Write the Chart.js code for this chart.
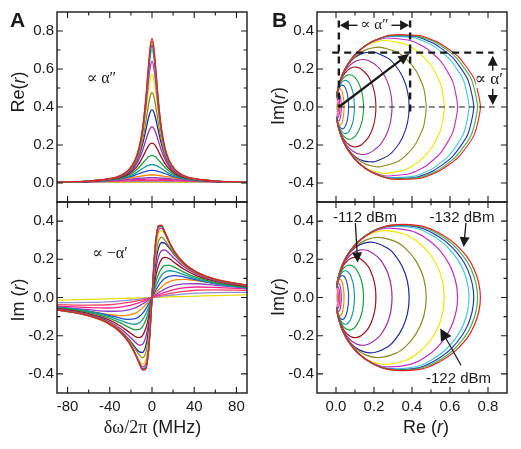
<!DOCTYPE html>
<html>
<head>
<meta charset="utf-8">
<script src="https://cdn.jsdelivr.net/npm/chart.js@4.4.0/dist/chart.umd.min.js"></script>
<style>
  body { margin: 0; background: #fff; }
  #wrap { position: relative; width: 521px; height: 449px; }
  #wrap canvas { position: absolute; left: 0; top: 0; }
</style>
</head>
<body>
<div id="wrap">
  <canvas id="aTop" width="521" height="449"></canvas>
  <canvas id="aBottom" width="521" height="449"></canvas>
  <canvas id="bTop" width="521" height="449"></canvas>
  <canvas id="bBottom" width="521" height="449"></canvas>
</div>
<script>
// detuning grid (MHz) shared by every trace
const detuning = [-90, -60, -42, -30, -22, -16, -12, -9, -6, -4.5, -3, -1.5, 0, 1.5, 3, 4.5, 6, 9, 12, 16, 22, 30, 42, 60, 90];

// one colour per input power, strongest response first
const seriesColors = ['#ee1c24', '#3cb83c', '#2233bb', '#44c8e0', '#c030c0', '#f0e600', '#8a8a20',
  '#1c2a9a', '#a028a8', '#9a1016', '#18a040', '#1a9a9a', '#2050d0', '#ff8a00', '#9040c8',
  '#ff2090', '#ff4060', '#9090d0', '#e8dc10'];

// Re(r) (top)
const reSeries = [
  [.005,.010,.021,.039,.070,.122,.193,.286,.438,.538,.642,.727,.760,.727,.642,.538,.438,.286,.193,.122,.070,.039,.021,.010,.005],
  [.004,.010,.020,.038,.068,.120,.189,.281,.429,.527,.629,.712,.745,.712,.629,.527,.429,.281,.189,.120,.068,.038,.020,.010,.004],
  [.004,.010,.020,.037,.067,.117,.184,.273,.418,.513,.612,.693,.725,.693,.612,.513,.418,.273,.184,.117,.067,.037,.020,.010,.004],
  [.004,.010,.020,.038,.068,.118,.185,.273,.413,.503,.596,.671,.700,.671,.596,.503,.413,.273,.185,.118,.068,.038,.020,.010,.004],
  [.004,.010,.020,.038,.067,.115,.180,.262,.390,.471,.552,.615,.640,.615,.552,.471,.390,.262,.180,.115,.067,.038,.020,.010,.004],
  [.004,.010,.020,.038,.067,.114,.175,.252,.365,.433,.500,.551,.570,.551,.500,.433,.365,.252,.175,.114,.067,.038,.020,.010,.004],
  [.004,.009,.019,.035,.062,.105,.159,.224,.317,.371,.422,.461,.475,.461,.422,.371,.317,.224,.159,.105,.062,.035,.019,.009,.004],
  [.004,.009,.019,.035,.060,.100,.148,.203,.275,.314,.350,.376,.385,.376,.350,.314,.275,.203,.148,.100,.060,.035,.019,.009,.004],
  [.004,.009,.017,.032,.055,.089,.128,.170,.222,.249,.273,.289,.295,.289,.273,.249,.222,.170,.128,.089,.055,.032,.017,.009,.004],
  [.004,.008,.016,.029,.048,.076,.105,.134,.168,.184,.198,.207,.210,.207,.198,.184,.168,.134,.105,.076,.048,.029,.016,.008,.004],
  [.003,.007,.015,.026,.042,.063,.084,.103,.122,.131,.139,.143,.145,.143,.139,.131,.122,.103,.084,.063,.042,.026,.015,.007,.003],
  [.003,.007,.014,.024,.036,.051,.065,.076,.086,.091,.094,.096,.097,.096,.094,.091,.086,.076,.065,.051,.036,.024,.014,.007,.003],
  [.003,.007,.013,.022,.031,.042,.050,.056,.061,.063,.065,.066,.066,.066,.065,.063,.061,.056,.050,.042,.031,.022,.013,.007,.003],
  [.004,.008,.013,.020,.026,.032,.035,.038,.040,.041,.042,.042,.042,.042,.042,.041,.040,.038,.035,.032,.026,.020,.013,.008,.004],
  [.004,.007,.012,.017,.020,.023,.025,.026,.027,.028,.028,.028,.028,.028,.028,.028,.027,.026,.025,.023,.020,.017,.012,.007,.004],
  [.004,.007,.011,.014,.016,.018,.019,.019,.020,.020,.020,.020,.020,.020,.020,.020,.020,.019,.019,.018,.016,.014,.011,.007,.004],
  [.004,.007,.009,.010,.011,.012,.013,.013,.013,.013,.013,.013,.013,.013,.013,.013,.013,.013,.013,.012,.011,.010,.009,.007,.004],
  [.004,.005,.006,.007,.007,.008,.008,.008,.008,.008,.008,.008,.008,.008,.008,.008,.008,.008,.008,.008,.007,.007,.006,.005,.004],
  [.003,.003,.003,.003,.003,.003,.003,.003,.003,.003,.003,.003,.003,.003,.003,.003,.003,.003,.003,.003,.003,.003,.003,.003,.003]
];

// Im(r) (bottom)
const imSeries = [
  [-.064,-.095,-.133,-.181,-.235,-.296,-.346,-.379,-.376,-.340,-.266,-.148,0,.148,.266,.340,.376,.379,.346,.296,.235,.181,.133,.095,.064],
  [-.063,-.094,-.132,-.180,-.234,-.294,-.344,-.376,-.373,-.338,-.264,-.147,0,.147,.264,.338,.373,.376,.344,.294,.234,.180,.132,.094,.063],
  [-.063,-.094,-.132,-.179,-.232,-.292,-.342,-.374,-.371,-.335,-.262,-.146,0,.146,.262,.335,.371,.374,.342,.292,.232,.179,.132,.094,.063],
  [-.064,-.095,-.133,-.181,-.234,-.293,-.341,-.371,-.364,-.327,-.254,-.141,0,.141,.254,.327,.364,.371,.341,.293,.234,.181,.133,.095,.064],
  [-.064,-.096,-.134,-.182,-.234,-.292,-.337,-.363,-.350,-.312,-.240,-.132,0,.132,.240,.312,.350,.363,.337,.292,.234,.182,.134,.096,.064],
  [-.066,-.097,-.136,-.184,-.235,-.290,-.330,-.350,-.330,-.289,-.220,-.120,0,.120,.220,.289,.330,.350,.330,.290,.235,.184,.136,.097,.066],
  [-.062,-.092,-.129,-.173,-.221,-.269,-.302,-.315,-.291,-.252,-.189,-.102,0,.102,.189,.252,.291,.315,.302,.269,.221,.173,.129,.092,.062],
  [-.064,-.094,-.131,-.174,-.218,-.261,-.285,-.288,-.256,-.217,-.160,-.085,0,.085,.160,.217,.256,.288,.285,.261,.218,.174,.131,.094,.064],
  [-.060,-.089,-.123,-.162,-.200,-.233,-.249,-.245,-.210,-.175,-.127,-.067,0,.067,.127,.175,.210,.245,.249,.233,.200,.162,.123,.089,.060],
  [-.057,-.084,-.115,-.149,-.180,-.204,-.210,-.199,-.164,-.134,-.095,-.050,0,.050,.095,.134,.164,.199,.210,.204,.180,.149,.115,.084,.057],
  [-.053,-.078,-.105,-.133,-.156,-.169,-.167,-.152,-.120,-.096,-.067,-.035,0,.035,.067,.096,.120,.152,.167,.169,.156,.133,.105,.078,.053],
  [-.051,-.073,-.097,-.120,-.135,-.140,-.132,-.116,-.088,-.069,-.048,-.025,0,.025,.048,.069,.088,.116,.132,.140,.135,.120,.097,.073,.051],
  [-.051,-.072,-.092,-.108,-.115,-.111,-.099,-.083,-.061,-.047,-.032,-.016,0,.016,.032,.047,.061,.083,.099,.111,.115,.108,.092,.072,.051],
  [-.054,-.073,-.088,-.095,-.092,-.082,-.069,-.055,-.039,-.030,-.020,-.010,0,.010,.020,.030,.039,.055,.069,.082,.092,.095,.088,.073,.054],
  [-.050,-.064,-.072,-.071,-.065,-.054,-.044,-.034,-.024,-.018,-.012,-.006,0,.006,.012,.018,.024,.034,.044,.054,.065,.071,.072,.064,.050],
  [-.045,-.053,-.055,-.050,-.043,-.034,-.027,-.021,-.014,-.011,-.007,-.004,0,.004,.007,.011,.014,.021,.027,.034,.043,.050,.055,.053,.045],
  [-.037,-.040,-.038,-.032,-.026,-.020,-.015,-.012,-.008,-.006,-.004,-.002,0,.002,.004,.006,.008,.012,.015,.020,.026,.032,.038,.040,.037],
  [-.027,-.026,-.023,-.018,-.014,-.011,-.008,-.006,-.004,-.003,-.002,-.001,0,.001,.002,.003,.004,.006,.008,.011,.014,.018,.023,.026,.027],
  [-.014,-.010,-.007,-.005,-.004,-.003,-.002,-.002,-.001,-.001,-.001,-.001,0,.001,.001,.001,.001,.002,.002,.003,.004,.005,.007,.010,.014]
];

// tick labels and minor ticks
const detuningTicks = [-80, -40, 0, 40, 80];
const detuningMinor = [-60, -20, 20, 60];
const reTicks = [0, 0.2, 0.4, 0.6, 0.8];
const reMinor = [0.1, 0.3, 0.5, 0.7];
const imTicks = [-0.4, -0.2, 0, 0.2, 0.4];
const imMinor = [-0.3, -0.1, 0.1, 0.3];

const FONT = '"Liberation Sans", Arial, Helvetica, sans-serif';
const SERIF = '"Liberation Serif", "DejaVu Serif", serif';
const INK = '#1a1a1a';

function drawRich(ctx, parts, cx, cy, rot) {
    ctx.save();
    ctx.translate(cx, cy);
    if (rot) ctx.rotate(rot);
    let total = 0;
    parts.forEach(p => { ctx.font = p.f; p.w = ctx.measureText(p.t).width; total += p.w; });
    let x = -total / 2;
    ctx.textAlign = 'left';
    ctx.textBaseline = 'middle';
    ctx.fillStyle = INK;
    parts.forEach(p => { ctx.font = p.f; ctx.fillText(p.t, x, 0); x += p.w; });
    ctx.restore();
}

function reLabel(size, gap) {
    return [{ t: 'Re' + gap + '(', f: size + 'px ' + FONT }, { t: 'r', f: 'italic ' + size + 'px ' + FONT }, { t: ')', f: size + 'px ' + FONT }];
}
function imLabel(size, gap) {
    return [{ t: 'Im' + gap + '(', f: size + 'px ' + FONT }, { t: 'r', f: 'italic ' + size + 'px ' + FONT }, { t: ')', f: size + 'px ' + FONT }];
}

function arrowHead(ctx, x1, y1, x2, y2, len, half) {
    const a = Math.atan2(y2 - y1, x2 - x1);
    const c = Math.cos(a), s = Math.sin(a);
    ctx.beginPath();
    ctx.moveTo(x2, y2);
    ctx.lineTo(x2 - len * c + half * s, y2 - len * s - half * c);
    ctx.lineTo(x2 - len * c - half * s, y2 - len * s + half * c);
    ctx.closePath();
    ctx.fill();
}

function arrow(ctx, x1, y1, x2, y2, len, half, lw) {
    const a = Math.atan2(y2 - y1, x2 - x1);
    ctx.lineWidth = lw;
    ctx.setLineDash([]);
    ctx.beginPath();
    ctx.moveTo(x1, y1);
    ctx.lineTo(x2 - len * 0.7 * Math.cos(a), y2 - len * 0.7 * Math.sin(a));
    ctx.stroke();
    arrowHead(ctx, x1, y1, x2, y2, len, half);
}

function framePlugin(cfg) {
    return {
        id: 'frame_' + cfg.name,
        afterDatasetsDraw(chart) {
            const ctx = chart.ctx, a = chart.chartArea;
            const xs = chart.scales.x, ys = chart.scales.y;
            ctx.save();
            ctx.strokeStyle = INK;
            ctx.fillStyle = INK;
            if (cfg.extra) cfg.extra(ctx, xs, ys, a);
            ctx.setLineDash([]);
            ctx.lineWidth = 1.4;
            ctx.strokeRect(a.left, a.top, a.right - a.left, a.bottom - a.top);
            ctx.lineWidth = 1.1;
            ctx.beginPath();
            const xt = (vals, len) => vals.forEach(v => {
                const p = xs.getPixelForValue(v);
                ctx.moveTo(p, a.bottom); ctx.lineTo(p, a.bottom - len);
                ctx.moveTo(p, a.top); ctx.lineTo(p, a.top + len);
            });
            const yt = (vals, len) => vals.forEach(v => {
                const p = ys.getPixelForValue(v);
                ctx.moveTo(a.left, p); ctx.lineTo(a.left + len, p);
                ctx.moveTo(a.right, p); ctx.lineTo(a.right - len, p);
            });
            xt(cfg.xTicks, 6); xt(cfg.xMinor, 3.5);
            yt(cfg.yTicks, 6); yt(cfg.yMinor, 3.5);
            ctx.stroke();
            ctx.restore();
        },
        afterDraw(chart) {
            const ctx = chart.ctx;
            if (cfg.letter) {
                ctx.save();
                ctx.font = 'bold 21px ' + FONT;
                ctx.fillStyle = INK;
                ctx.textBaseline = 'alphabetic';
                ctx.fillText(cfg.letter[0], cfg.letter[1], cfg.letter[2]);
                ctx.restore();
            }
            if (cfg.yTitle) drawRich(ctx, cfg.yTitle, cfg.yTitlePos[0], cfg.yTitlePos[1], -Math.PI / 2);
            if (cfg.xTitle) drawRich(ctx, cfg.xTitle, cfg.xTitlePos[0], cfg.xTitlePos[1], 0);
        }
    };
}

function axis(min, max, ticks, show, fmt, dir, size) {
    return {
        type: 'linear',
        min: min,
        max: max,
        grid: { display: false, drawTicks: false },
        border: { display: false },
        ticks: {
            display: show,
            color: INK,
            font: { family: FONT, size: 15 },
            padding: dir === 'x' ? 5 : 3,
            maxRotation: 0,
            autoSkip: false,
            callback: v => fmt(v)
        },
        afterBuildTicks: s => { s.ticks = ticks.map(v => ({ value: v })); },
        afterFit: s => {
            if (dir === 'x') s.height = size; else s.width = size;
            s.paddingLeft = s.paddingRight = s.paddingTop = s.paddingBottom = 0;
        }
    };
}

function makePanel(id, cfg) {
    return new Chart(document.getElementById(id), {
        type: 'scatter',
        data: { datasets: cfg.datasets },
        options: {
            responsive: false,
            animation: false,
            events: [],
            layout: { padding: cfg.pad },
            plugins: { legend: { display: false }, tooltip: { enabled: false } },
            elements: { point: { radius: 0 } },
            scales: {
                x: axis(cfg.xMin, cfg.xMax, cfg.xTicks, cfg.xLabels, cfg.xFmt, 'x', cfg.xH),
                y: axis(cfg.yMin, cfg.yMax, cfg.yTicks, true, v => v.toFixed(1), 'y', 57)
            }
        },
        plugins: [framePlugin(cfg)]
    });
}

function spectrumSets(series) {
    return series.map((vals, k) => ({
        data: detuning.map((d, i) => ({ x: d, y: vals[i] })),
        borderColor: seriesColors[k],
        borderWidth: 1.3,
        showLine: true,
        cubicInterpolationMode: 'monotone'
    }));
}

function circleSets(tension, width) {
    return reSeries.map((vals, k) => ({
        data: vals.map((re, i) => ({ x: re, y: imSeries[k][i] })),
        borderColor: seriesColors[k],
        borderWidth: width,
        showLine: true,
        tension: tension
    }));
}

function greekNote(ctx, text, x, y, size) {
    ctx.font = size + 'px ' + SERIF;
    ctx.textAlign = 'center';
    ctx.textBaseline = 'middle';
    ctx.fillText(text, x, y);
}

// panel A, top: Re(r) spectra
makePanel('aTop', {
    name: 'aTop',
    datasets: spectrumSets(reSeries),
    pad: { left: 0, right: 274, top: 12, bottom: 247 },
    xMin: -90, xMax: 90, xTicks: detuningTicks, xMinor: detuningMinor, xLabels: false, xFmt: v => String(v), xH: 0,
    yMin: -0.1, yMax: 0.9, yTicks: reTicks, yMinor: reMinor,
    letter: ['A', 10, 27],
    yTitle: reLabel(18, ''), yTitlePos: [19.5, 92],
    extra: (ctx, xs, ys) => greekNote(ctx, '\u221D \u03B1\u2033', xs.getPixelForValue(-48), ys.getPixelForValue(0.55), 16)
});

// panel A, bottom: Im(r) spectra
makePanel('aBottom', {
    name: 'aBottom',
    datasets: spectrumSets(imSeries),
    pad: { left: 0, right: 274, top: 202, bottom: 0 },
    xMin: -90, xMax: 90, xTicks: detuningTicks, xMinor: detuningMinor, xLabels: true, xFmt: v => String(v), xH: 56,
    yMin: -0.5, yMax: 0.5, yTicks: imTicks, yMinor: imMinor,
    yTitle: imLabel(18, ' '), yTitlePos: [19.5, 300],
    xTitle: [{ t: '\u03B4\u03C9/2\u03C0', f: '18px ' + SERIF }, { t: ' (MHz)', f: '18px ' + FONT }],
    xTitlePos: [152.5, 428],
    extra: (ctx, xs, ys) => greekNote(ctx, '\u221D \u2212\u03B1\u2032', xs.getPixelForValue(-40), ys.getPixelForValue(0.23), 16)
});

// panel B, top: measured circles with construction lines
makePanel('bTop', {
    name: 'bTop',
    datasets: circleSets(0.2, 1.1),
    pad: { left: 260, right: 14, top: 12, bottom: 247 },
    xMin: -0.1, xMax: 0.9, xTicks: reTicks, xMinor: reMinor, xLabels: false, xFmt: v => v.toFixed(1), xH: 0,
    yMin: -0.5, yMax: 0.5, yTicks: imTicks, yMinor: imMinor,
    letter: ['B', 272, 27],
    yTitle: imLabel(18, ''), yTitlePos: [279.5, 106],
    extra: (ctx, xs, ys) => {
        const X = v => xs.getPixelForValue(v), Y = v => ys.getPixelForValue(v);
        // thin dashed zero line
        ctx.lineWidth = 1;
        ctx.setLineDash([6, 4]);
        ctx.beginPath();
        ctx.moveTo(X(0.015), Y(0)); ctx.lineTo(X(0.84), Y(0));
        ctx.stroke();
        // thick dashed construction lines
        ctx.lineWidth = 2.4;
        ctx.setLineDash([7, 5]);
        ctx.beginPath();
        ctx.moveTo(X(0.015), Y(0.455)); ctx.lineTo(X(0.015), Y(0));
        ctx.moveTo(X(0.39), Y(0.455)); ctx.lineTo(X(0.39), Y(-0.03));
        ctx.moveTo(X(-0.02), Y(0.286)); ctx.lineTo(X(0.83), Y(0.286));
        ctx.stroke();
        ctx.setLineDash([]);
        // radius arrow
        arrow(ctx, X(0.015), Y(0), X(0.385), Y(0.28), 11, 5, 2.2);
        // width arrow  |<- prop a'' ->|
        const hy = Y(0.43), hc = (X(0.015) + X(0.39)) / 2;
        arrow(ctx, hc - 17, hy, X(0.015) + 1, hy, 9, 5, 1.4);
        arrow(ctx, hc + 17, hy, X(0.39) - 1, hy, 9, 5, 1.4);
        greekNote(ctx, '\u221D \u03B1\u2033', hc, hy, 15);
        // height arrow with prop a'
        const vx = X(0.825), vc = (Y(0.286) + Y(0)) / 2;
        arrow(ctx, vx, vc - 9, vx, Y(0.286) + 3, 10, 5, 1.4);
        arrow(ctx, vx, vc + 9, vx, Y(0) - 2, 10, 5, 1.4);
        ctx.fillStyle = '#fff';
        ctx.fillRect(vx - 17, vc - 8, 34, 16);
        ctx.fillStyle = INK;
        greekNote(ctx, '\u221D \u03B1\u2032', vx - 4, vc, 17);
    }
});

// panel B, bottom: fitted circles with power labels
makePanel('bBottom', {
    name: 'bBottom',
    datasets: circleSets(0.4, 1.2),
    pad: { left: 260, right: 14, top: 202, bottom: 0 },
    xMin: -0.1, xMax: 0.9, xTicks: reTicks, xMinor: reMinor, xLabels: true, xFmt: v => v.toFixed(1), xH: 56,
    yMin: -0.5, yMax: 0.5, yTicks: imTicks, yMinor: imMinor,
    yTitle: imLabel(18, ''), yTitlePos: [279.5, 297],
    xTitle: reLabel(18, ' '), xTitlePos: [426, 428],
    extra: (ctx, xs, ys) => {
        const X = v => xs.getPixelForValue(v), Y = v => ys.getPixelForValue(v);
        ctx.font = '15px ' + FONT;
        ctx.textAlign = 'center';
        ctx.textBaseline = 'middle';
        ctx.fillText('-112 dBm', X(0.153), Y(0.418));
        ctx.fillText('-132 dBm', X(0.663), Y(0.418));
        ctx.fillText('-122 dBm', X(0.645), Y(-0.424));
        arrow(ctx, X(0.102), Y(0.39), X(0.114), Y(0.183), 10, 5, 1.3);
        arrow(ctx, X(0.684), Y(0.39), X(0.672), Y(0.264), 10, 5, 1.3);
        arrow(ctx, X(0.658), Y(-0.355), X(0.549), Y(-0.162), 12, 6, 1.3);
    }
});
</script>
</body>
</html>
